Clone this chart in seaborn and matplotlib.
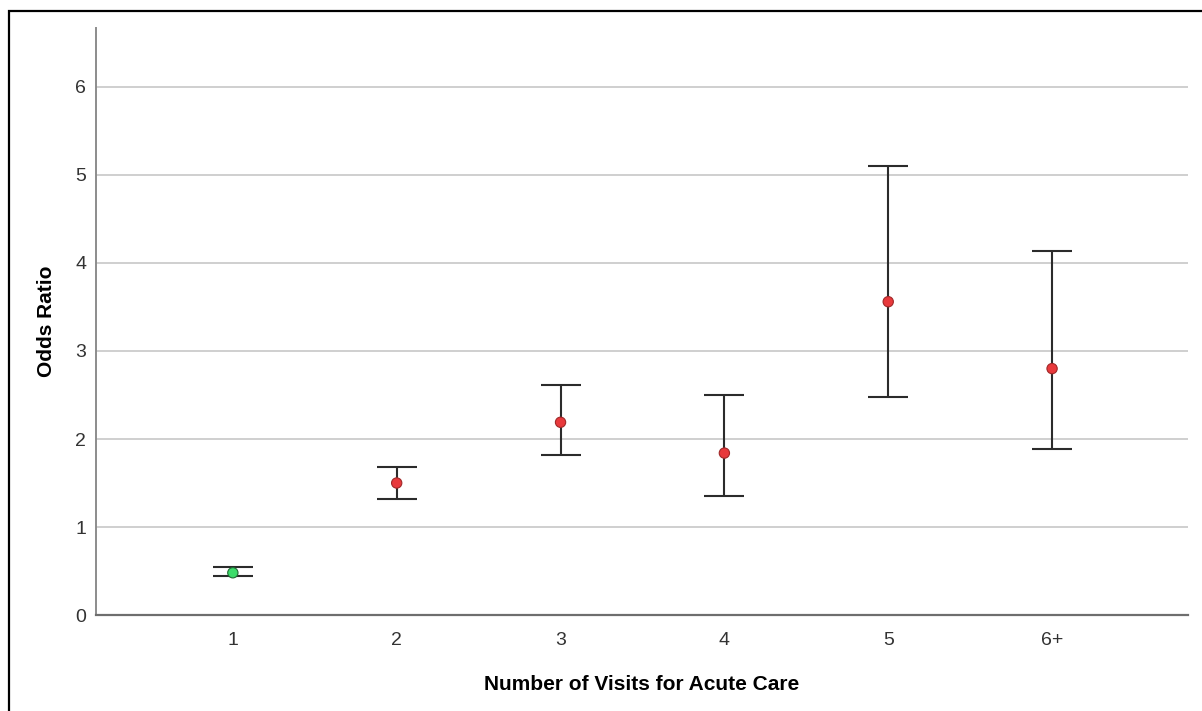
import numpy as np
import pandas as pd
import matplotlib
matplotlib.use("Agg")
import matplotlib.pyplot as plt
from matplotlib.patches import Rectangle
import seaborn as sns

# ------------------------------------------------------------
# Data: odds ratios with 95% CI by number of acute care visits
# ------------------------------------------------------------
visits = ["1", "2", "3", "4", "5", "6+"]
odds_ratio = [0.48, 1.50, 2.19, 1.84, 3.56, 2.80]
ci_lower = [0.44, 1.32, 1.82, 1.35, 2.48, 1.89]
ci_upper = [0.54, 1.68, 2.61, 2.50, 5.10, 4.14]
direction = ["lower", "higher", "higher", "higher", "higher", "higher"]

df = pd.DataFrame({
    "pos": np.arange(len(visits)),
    "visits": visits,
    "odds_ratio": odds_ratio,
    "lo": ci_lower,
    "hi": ci_upper,
    "direction": direction,
})

sns.set_theme(style="white")
plt.rcParams["font.family"] = ["Liberation Sans", "DejaVu Sans"]

fig = plt.figure(figsize=(12.02, 7.11), dpi=100)
ax = fig.add_axes([0.0799, 0.135, 0.9085, 0.8256])

# grid lines first so markers sit on top
ax.set_axisbelow(True)
ax.yaxis.grid(True, color="#cfcfcf", linewidth=1.4)

# whiskers with caps
ax.errorbar(
    df["pos"], df["odds_ratio"],
    yerr=[df["odds_ratio"] - df["lo"], df["hi"] - df["odds_ratio"]],
    fmt="none", ecolor="#2b2b2b", elinewidth=1.5, capsize=14.5, capthick=1.5,
    zorder=2,
)

sns.scatterplot(
    data=df, x="pos", y="odds_ratio", hue="direction",
    palette={"lower": "#3cdc6a", "higher": "#e8393c"},
    linewidth=0.8, s=55, legend=False, zorder=3, ax=ax,
)
# darker edge of the same hue for each point
ax.collections[-1].set_edgecolors(
    ["#1e6b34" if d == "lower" else "#a02828" for d in df["direction"]]
)

ax.set_xlim(-0.835, 5.83)
ax.set_ylim(0, 6.67)
ax.set_xticks(df["pos"])
ax.set_xticklabels(visits)
ax.set_yticks(range(0, 7))

ax.tick_params(axis="both", length=0, labelsize=14, labelcolor="#333333")
ax.tick_params(axis="y", pad=7)
ax.tick_params(axis="x", pad=12)

for side in ["top", "right"]:
    ax.spines[side].set_visible(False)
ax.spines["left"].set_color("#8c8c8c")
ax.spines["bottom"].set_color("#6e6e6e")
ax.spines["left"].set_linewidth(1.4)
ax.spines["bottom"].set_linewidth(1.6)

ax.set_xlabel("Number of Visits for Acute Care", fontsize=15,
              fontweight="bold", color="black", labelpad=19)
ax.set_ylabel("Odds Ratio", fontsize=15, fontweight="bold",
              color="black", labelpad=14)

# black frame around the chart (only left/top edges fall inside the image)
frame = Rectangle((8.5 / 1202, -0.2), 1.5, 1.2 - 10.5 / 711,
                  transform=fig.transFigure, fill=False,
                  edgecolor="black", linewidth=1.6, clip_on=False)
fig.patches.append(frame)

fig.savefig("out.png", dpi=100)
plt.close(fig)
